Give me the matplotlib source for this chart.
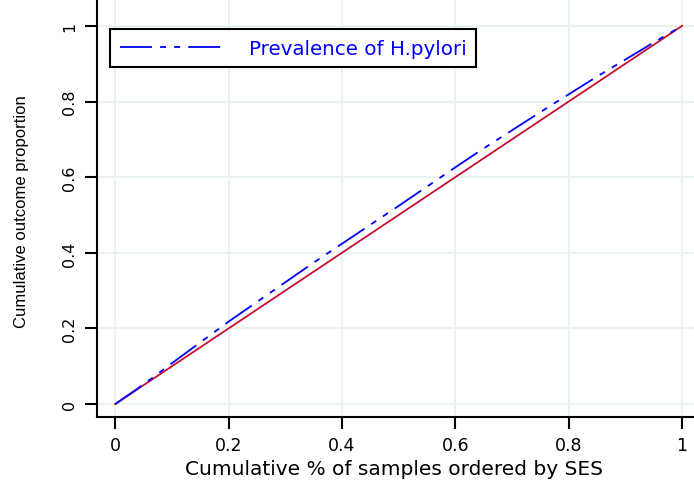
import numpy as np
import matplotlib
matplotlib.use('Agg')
import matplotlib.pyplot as plt

# cumulative share of samples (ranked by SES) and cumulative outcome share
cum_samples = [0, 0.05, 0.1, 0.15, 0.2, 0.25, 0.3, 0.35, 0.4, 0.45, 0.5,
               0.55, 0.6, 0.65, 0.7, 0.75, 0.8, 0.85, 0.9, 0.95, 1]
cum_outcome = [0, 0.052, 0.108, 0.163, 0.218, 0.27, 0.322, 0.374, 0.424, 0.474, 0.524,
               0.575, 0.626, 0.676, 0.724, 0.772, 0.819, 0.866, 0.911, 0.956, 1]
equality = [0, 1]
ticks = [0, 0.2, 0.4, 0.6, 0.8, 1]
tick_labels = ['0', '0.2', '0.4', '0.6', '0.8', '1']

plt.rcParams['font.family'] = ['DejaVu Sans']

W, H = 694, 481
fig = plt.figure(figsize=(W / 100, H / 100), dpi=100)
ax = fig.add_axes([97 / W, (H - 418) / H, (W - 97) / W, 418 / H])

ax.set_xlim(-0.032, 1.021)
ax.set_ylim(-0.034, 1.071)

ax.grid(True, color='#eaf2f3', linewidth=1.5)
ax.set_axisbelow(True)

ax.plot(equality, equality, color='#c8102e', linewidth=1.3, zorder=3)
line, = ax.plot(cum_samples, cum_outcome, color='blue', linewidth=1.3,
                label='Prevalence of H.pylori', zorder=4)
line.set_dashes([17.7, 4.5, 3.3, 4.5, 3.3, 4.5])

for s in ['top', 'right']:
    ax.spines[s].set_visible(False)
for s in ['left', 'bottom']:
    ax.spines[s].set_linewidth(1.5)

ax.set_xticks(ticks)
ax.set_xticklabels(tick_labels)
ax.set_yticks(ticks)
ax.set_yticklabels(tick_labels, rotation=90, va='center')
ax.tick_params(direction='out', length=8.5, width=1.5, pad=5)
ax.tick_params(axis='x', labelsize=12.5)
ax.tick_params(axis='y', labelsize=11.5, pad=6)

ax.set_xlabel('Cumulative % of samples ordered by SES', fontsize=14.5, va='center')
ax.xaxis.set_label_coords(0.497, -0.124)
ax.set_ylabel('Cumulative outcome proportion', fontsize=12, va='center',
              family=['Liberation Sans', 'DejaVu Sans'])
ax.yaxis.set_label_coords(-0.126, 0.493)

leg = ax.legend(loc='upper left', bbox_to_anchor=(110 / W, 1 - 30 / H),
                bbox_transform=fig.transFigure, fancybox=False, framealpha=1,
                edgecolor='black', fontsize=14.3, handlelength=5.2,
                borderpad=0.48, handletextpad=1.3, borderaxespad=0)
leg.get_frame().set_linewidth(1.5)
for t in leg.get_texts():
    t.set_color('blue')

fig.savefig('out.png', dpi=100)
